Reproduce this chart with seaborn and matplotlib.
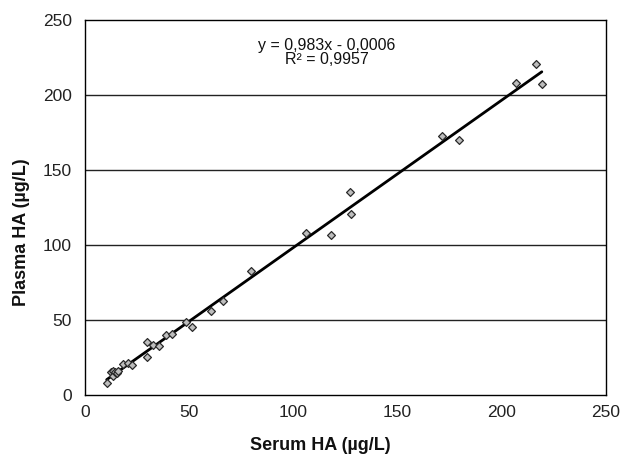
import numpy as np
import pandas as pd
import seaborn as sns
import matplotlib.pyplot as plt

# serum vs plasma HA
serum = [10.4, 12.5, 13.3, 13.6, 14.4, 15.5, 16.0, 18.4, 20.8, 22.4, 29.6, 29.9,
         32.8, 35.7, 38.9, 41.6, 48.5, 51.2, 60.5, 66.1, 79.5, 106.1, 118.0,
         127.2, 127.6, 171.2, 179.4, 206.9, 216.5, 219.2]
plasma = [7.8, 15.5, 16.0, 12.7, 15.5, 14.5, 16.0, 20.5, 21.5, 20.0, 35.5, 25.5,
          33.3, 32.7, 40.0, 40.7, 48.9, 45.5, 56.2, 62.9, 82.9, 107.8, 106.5,
          135.5, 120.5, 172.7, 170.0, 207.8, 220.7, 207.3]
slope, intercept = 0.983, -0.0006
eq_text = "y = 0,983x - 0,0006"
r2_text = "R² = 0,9957"
ticks = [0, 50, 100, 150, 200, 250]

df = pd.DataFrame({"serum": serum, "plasma": plasma})

sns.set_style("white")
plt.rcParams['font.family'] = ['Liberation Sans', 'DejaVu Sans']

fig = plt.figure(figsize=(6.33, 4.59), dpi=100)
ax = fig.add_axes([85/633, 64/459, 521/633, 375/459])

for t in ticks[1:-1]:
    ax.axhline(t, color='#222222', lw=1.0, zorder=0)

sns.scatterplot(data=df, x="serum", y="plasma", marker='D', s=16,
                color='#bdbdbd', edgecolor='#2a2a2a', linewidth=0.9, ax=ax, zorder=3)

# trendline over the data range
xfit = np.array([df.serum.min(), df.serum.max()])
line = pd.DataFrame({"x": xfit, "y": slope * xfit + intercept})
sns.lineplot(data=line, x="x", y="y", color='black', lw=2.0, ax=ax, zorder=2)

ax.set_xlim(0, 250)
ax.set_ylim(0, 250)
ax.set_xticks(ticks)
ax.set_yticks(ticks)
ax.tick_params(axis='both', direction='out', length=4, width=1, colors='black',
               labelsize=12.5, labelcolor='#222222')
ax.tick_params(axis='y', pad=5.5)
ax.tick_params(axis='x', pad=3.5)
for sp in ax.spines.values():
    sp.set_color('black')
    sp.set_linewidth(1.0)

ax.set_xlabel("Serum HA (µg/L)", fontsize=13, fontweight='bold', color='#111111')
ax.set_ylabel("Plasma HA (µg/L)", fontsize=13, fontweight='bold', color='#111111')
ax.xaxis.set_label_coords(0.451, -0.112)
ax.yaxis.set_label_coords(-0.106, 0.435)

ax.text(116, 233, eq_text, ha='center', va='center', fontsize=11.5, color='#111111')
ax.text(116, 224, r2_text, ha='center', va='center', fontsize=11.5, color='#111111')

fig.savefig("out.png", dpi=100)
